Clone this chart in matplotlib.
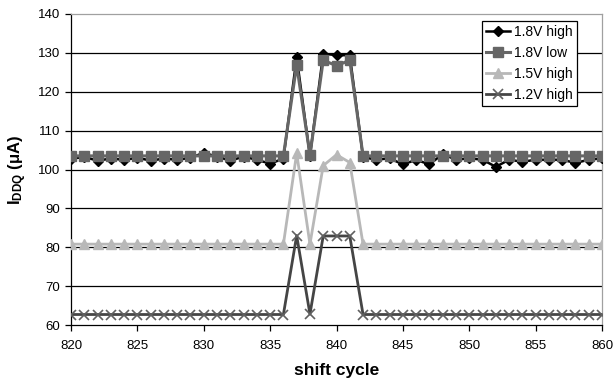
import matplotlib
matplotlib.use("Agg")
import matplotlib.pyplot as plt

plt.rcParams['font.family'] = ['Liberation Sans', 'DejaVu Sans']
plt.rcParams['mathtext.fontset'] = 'custom'
plt.rcParams['mathtext.rm'] = 'Liberation Sans'
plt.rcParams['mathtext.bf'] = 'Liberation Sans:bold'
plt.rcParams['mathtext.it'] = 'Liberation Sans:italic'

# ---- data ----
cycles = list(range(820, 861))
high_18 = [102.8, 103.2, 102.3, 102.8, 102.5, 103.0, 102.3, 102.8, 102.5, 103.0,
           104.3, 103.3, 102.3, 103.3, 102.5, 101.5, 102.8,
           128.9, 103.5, 129.8, 129.4, 129.4,
           103.2, 102.5, 102.9, 101.3, 102.5, 101.3, 104.0, 102.5, 102.9, 102.5,
           100.7, 102.5, 102.0, 102.5, 102.5, 102.5, 101.7, 102.5, 102.9]
low_18 = [103.5] * 17 + [126.9, 103.7, 128.1, 126.7, 128.1] + [103.5] * 19
high_15 = [80.8] * 17 + [104.2, 80.8, 101.0, 103.8, 101.8] + [80.8] * 19
high_12 = [62.7] * 17 + [83.0, 62.8, 82.9, 82.9, 82.9] + [62.7] * 19

series_labels = ['1.8V high', '1.8V low', '1.5V high', '1.2V high']
x_ticks = [820, 825, 830, 835, 840, 845, 850, 855, 860]
y_ticks = [60, 70, 80, 90, 100, 110, 120, 130, 140]

fig = plt.figure(figsize=(6.13, 3.88), dpi=100)
ax = fig.add_axes([71 / 613, 63 / 388, 531 / 613, 311 / 388])

for yt in y_ticks[1:-1]:
    ax.axhline(yt, color='black', lw=0.9, zorder=1)

ax.plot(cycles, high_18, color='black', lw=1.8, marker='D', ms=5,
        mfc='black', mec='black', label=series_labels[0], zorder=3)
ax.plot(cycles, low_18, color='#666666', lw=2.2, marker='s', ms=6.5,
        mfc='#666666', mec='#666666', label=series_labels[1], zorder=4)
ax.plot(cycles, high_15, color='#b8b8b8', lw=2.0, marker='^', ms=6.5,
        mfc='#b8b8b8', mec='#b8b8b8', label=series_labels[2], zorder=5)
ax.plot(cycles, high_12, color='#454545', lw=2.0, marker='x', ms=6.5,
        mew=1.2, mec='#606060', label=series_labels[3], zorder=6)

ax.set_xlim(820, 860)
ax.set_ylim(60, 140)
ax.set_xticks(x_ticks)
ax.set_yticks(y_ticks)
ax.tick_params(axis='x', direction='out', length=4, width=0.9, pad=7, labelsize=9.5)
ax.tick_params(axis='y', direction='out', length=4, width=0.9, pad=4, labelsize=9.5)

for s in ['left', 'bottom']:
    ax.spines[s].set_color('black')
    ax.spines[s].set_linewidth(0.9)
for s in ['top', 'right']:
    ax.spines[s].set_color('#a0a0a0')
    ax.spines[s].set_linewidth(0.9)

ax.set_xlabel('shift cycle', fontsize=12.5, fontweight='bold', labelpad=8)
ax.set_ylabel(r'$\mathbf{I_{DDQ}}$ ($\mathbf{\mu}$A)', fontsize=12, fontweight='bold', labelpad=6)

leg = ax.legend(loc='upper right', bbox_to_anchor=(0.953, 0.978), borderaxespad=0,
                fontsize=10, frameon=True, fancybox=False, edgecolor='black',
                framealpha=1, handlelength=1.7, handletextpad=0.3,
                labelspacing=0.5, borderpad=0.3)
leg.get_frame().set_linewidth(0.9)
leg.set_zorder(10)

fig.savefig('out.png', dpi=100)
